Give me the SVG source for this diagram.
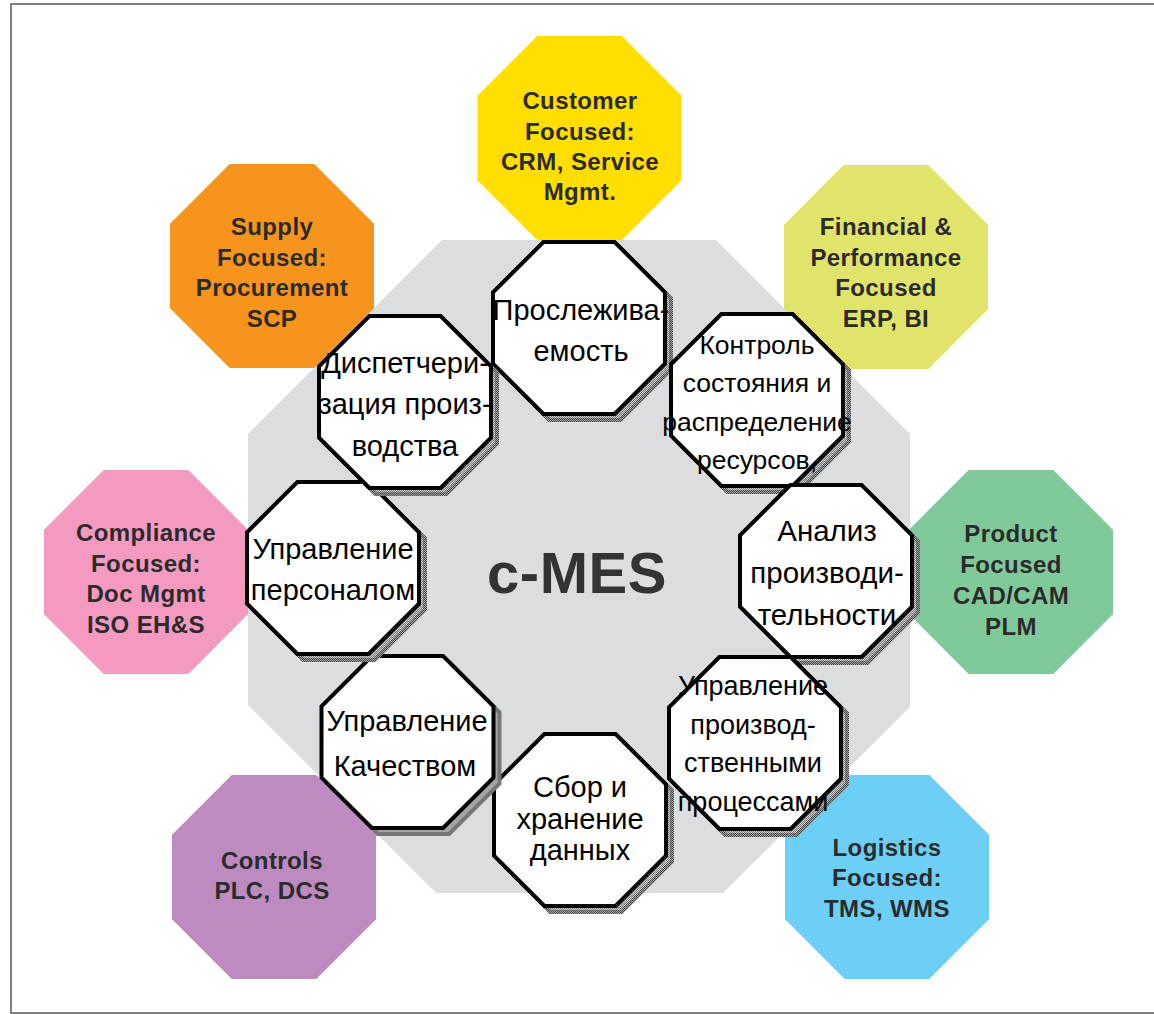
<svg xmlns="http://www.w3.org/2000/svg" xmlns:xlink="http://www.w3.org/1999/xlink" width="1154" height="1014" viewBox="0 0 1154 1014">
<style>
.outer text{font-family:"Liberation Sans",Arial,sans-serif;font-weight:bold;font-size:24px;fill:#2b2b2b;text-anchor:middle;letter-spacing:0.4px}
.shape{fill:#fff;stroke:#000;stroke-width:4}
.shadow{fill:url(#dots);stroke:url(#dots2);stroke-width:4}
.inner text{font-family:"Liberation Sans",Arial,sans-serif;font-size:29px;fill:#000;text-anchor:middle}
.title{font-family:"Liberation Sans",Arial,sans-serif;font-weight:bold;font-size:58px;fill:#333;text-anchor:middle;letter-spacing:0.5px}
</style>
<defs>
<pattern id="dots" width="2" height="2" patternUnits="userSpaceOnUse"><rect width="2" height="2" fill="#cfcfcf"/><rect width="1" height="1" fill="#7a7a7a"/><rect x="1" y="1" width="1" height="1" fill="#7a7a7a"/></pattern>
<pattern id="dots2" width="2" height="2" patternUnits="userSpaceOnUse"><rect width="2" height="2" fill="#a8a8a8"/><rect width="1" height="1" fill="#444"/><rect x="1" y="1" width="1" height="1" fill="#444"/></pattern>
<polygon id="oct" points="-35.6,-86 35.6,-86 86,-35.6 86,35.6 35.6,86 -35.6,86 -86,35.6 -86,-35.6"/>
<polygon id="oct2" points="-42.3,-102 42.3,-102 102,-42.3 102,42.3 42.3,102 -42.3,102 -102,42.3 -102,-42.3"/>
</defs>
<rect x="0" y="0" width="1154" height="1014" fill="#fff"/>
<rect x="11" y="4" width="1146" height="1009" fill="#fff" stroke="#808080" stroke-width="2"/>
<polygon id="core" points="442,240 716,240 910,434 910,707 723,893 436,893 248,705 248,434" fill="#dcdddf"/>

<g class="outer">
<g id="customer"><use xlink:href="#oct2" x="579.5" y="138" fill="#ffde00"/><text x="580" y="109">Customer</text><text x="580" y="140">Focused:</text><text x="580" y="170">CRM, Service</text><text x="580" y="200">Mgmt.</text></g>
<g id="supply"><use xlink:href="#oct2" x="272" y="266" fill="#f7941e"/><text x="272" y="235">Supply</text><text x="272" y="266">Focused:</text><text x="272" y="296">Procurement</text><text x="272" y="327">SCP</text></g>
<g id="financial"><use xlink:href="#oct2" x="886" y="267" fill="#e1e46a"/><text x="886" y="235">Financial &amp;</text><text x="886" y="266">Performance</text><text x="886" y="296">Focused</text><text x="886" y="327">ERP, BI</text></g>
<g id="compliance"><use xlink:href="#oct2" x="146" y="572" fill="#f49ac1"/><text x="146" y="541">Compliance</text><text x="146" y="572">Focused:</text><text x="146" y="602">Doc Mgmt</text><text x="146" y="633">ISO EH&amp;S</text></g>
<g id="product"><use xlink:href="#oct2" x="1011" y="572" fill="#80c99b"/><text x="1011" y="542">Product</text><text x="1011" y="573">Focused</text><text x="1011" y="604">CAD/CAM</text><text x="1011" y="635">PLM</text></g>
<g id="controls"><use xlink:href="#oct2" x="274" y="877" fill="#bd8bbf"/><text x="272" y="869">Controls</text><text x="272" y="899">PLC, DCS</text></g>
<g id="logistics"><use xlink:href="#oct2" x="887" y="877" fill="#6dcff6"/><text x="887" y="856">Logistics</text><text x="887" y="886">Focused:</text><text x="887" y="917">TMS, WMS</text></g>
</g>

<g id="connectors"></g>

<g class="inner">
<g id="traceability"><use xlink:href="#oct" class="shadow" x="585" y="334"/><use xlink:href="#oct" class="shape" x="579" y="328"/><text x="581" y="320">Прослежива-</text><text x="581" y="361">емость</text></g>
<g id="resources"><use xlink:href="#oct" class="shadow" x="763" y="406"/><use xlink:href="#oct" class="shape" x="757" y="400"/><text x="757" y="354" style="font-size:26.5px">Контроль</text><text x="757" y="392" style="font-size:26.5px">состояния и</text><text x="757" y="431" style="font-size:26.5px">распределение</text><text x="757" y="469" style="font-size:26.5px">ресурсов,</text></g>
<g id="analysis"><use xlink:href="#oct" class="shadow" x="832" y="577"/><use xlink:href="#oct" class="shape" x="826" y="571"/><text x="827" y="541" style="font-size:29.5px">Анализ</text><text x="827" y="583" style="font-size:29.5px">производи-</text><text x="827" y="625" style="font-size:29.5px">тельности</text></g>
<g id="processes"><use xlink:href="#oct" class="shadow" x="761" y="749"/><use xlink:href="#oct" class="shape" x="755" y="743"/><text x="753" y="695" style="font-size:27px">Управление</text><text x="753" y="734" style="font-size:27px">производ-</text><text x="753" y="772" style="font-size:27px">ственными</text><text x="753" y="811" style="font-size:27px">процессами</text></g>
<g id="data"><use xlink:href="#oct" class="shadow" x="586" y="826"/><use xlink:href="#oct" class="shape" x="580" y="820"/><text x="580" y="797">Сбор и</text><text x="580" y="829">хранение</text><text x="580" y="860">данных</text></g>
<g id="quality"><use xlink:href="#oct" class="shadow" x="413.5" y="748"/><use xlink:href="#oct" class="shape" x="407.5" y="742"/><text x="407" y="731">Управление</text><text x="405" y="776">Качеством</text></g>
<g id="personnel"><use xlink:href="#oct" class="shadow" x="339" y="574"/><use xlink:href="#oct" class="shape" x="333" y="568"/><text x="333" y="559">Управление</text><text x="333" y="600">персоналом</text></g>
<g id="dispatching"><use xlink:href="#oct" class="shadow" x="411" y="408"/><use xlink:href="#oct" class="shape" x="405" y="402"/><text x="405" y="373">Диспетчери-</text><text x="405" y="414">зация произ-</text><text x="405" y="456">водства</text></g>
</g>

<text class="title" x="577" y="593">c-MES</text>
</svg>
